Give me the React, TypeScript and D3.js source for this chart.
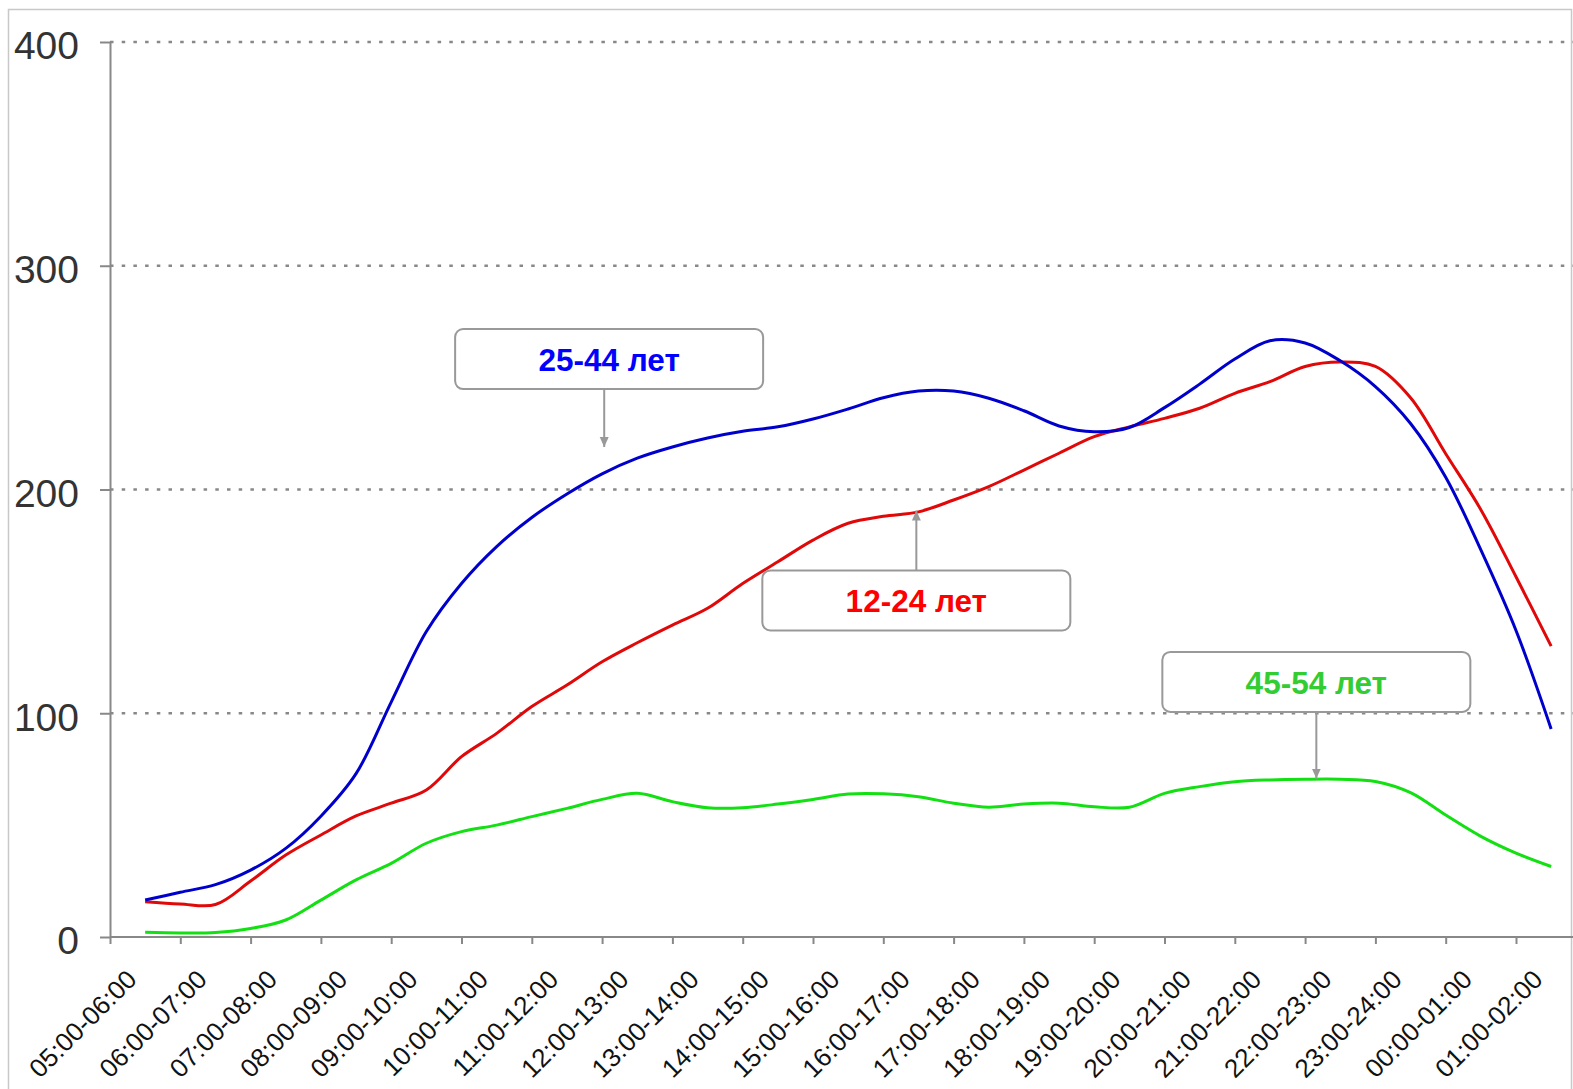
import React, { useEffect, useRef } from 'react';
import * as d3 from 'd3';

// hour bands on the x axis
const categories = [
    '05:00-06:00', '06:00-07:00', '07:00-08:00', '08:00-09:00', '09:00-10:00',
    '10:00-11:00', '11:00-12:00', '12:00-13:00', '13:00-14:00', '14:00-15:00',
    '15:00-16:00', '16:00-17:00', '17:00-18:00', '18:00-19:00', '19:00-20:00',
    '20:00-21:00', '21:00-22:00', '22:00-23:00', '23:00-24:00', '00:00-01:00',
    '01:00-02:00',
];

const yTicks = [0, 100, 200, 300, 400];

// audience per half-hour step, starting at the middle of the first band
const age12to24 = [
    15.8, 14.8, 14.5, 25, 36.6, 45.6, 54.1, 59.8, 65.7, 80.6,
    91, 103, 112.6, 123, 131.5, 139.4, 146.9, 158, 167.7, 177.4,
    184.9, 188, 190, 195.3, 201.3, 208.7, 216.2, 223.6, 228, 231.8,
    236.3, 243, 248.2, 255, 257, 255, 241, 216, 191, 161,
    130,
];

const age25to44 = [
    16.5, 20, 23.4, 29.9, 39.6, 54, 73, 105, 136.5, 158,
    174.5, 187.5, 198, 207, 214, 219, 223, 226, 228, 231.5,
    236, 241, 244, 244, 240.8, 235.2, 228.4, 225.8, 227.7, 236.6,
    247.1, 258.3, 266.5, 265.5, 257.5, 246, 229.5, 205.5, 173, 137,
    93,
];

const age45to54 = [
    2.1, 1.8, 2, 3.8, 7.6, 16.5, 25.5, 32.9, 41.9, 47.1,
    50, 53.8, 57.5, 61.5, 64.2, 60.5, 57.8, 57.8, 59.4, 61.5,
    63.9, 64, 62.7, 59.8, 58, 59.4, 59.8, 58.2, 58, 64.2,
    67.2, 69.4, 70.2, 70.5, 70.5, 69.5, 64.5, 54.5, 45, 37.5,
    31.5,
];

const series = [
    { name: '45-54 лет', values: age45to54, color: '#12e012' },
    { name: '12-24 лет', values: age12to24, color: '#e00808' },
    { name: '25-44 лет', values: age25to44, color: '#0000cc' },
];

// callout boxes, placed in chart units (hours from 05:00, audience)
const callouts = [
    { text: '25-44 лет', color: '#0000ff', boxHour: 7.1, boxValue: 258.3, tipHour: 7.03, tipValue: 219 },
    { text: '12-24 лет', color: '#ff0000', boxHour: 11.47, boxValue: 150.4, tipHour: 11.47, tipValue: 190.6 },
    { text: '45-54 лет', color: '#33cc33', boxHour: 17.16, boxValue: 114, tipHour: 17.16, tipValue: 70.8 },
];

const WIDTH = 1573;
const HEIGHT = 1089;
const FONT = '"Liberation Sans", Arial, sans-serif';

const App = () => {
    const svgRef = useRef<SVGSVGElement>(null);

    useEffect(() => {
        const svg = d3.select(svgRef.current);
        svg.selectAll('*').remove();

        const left = 110;
        const bandW = 70.3;
        const x = d3.scaleLinear().domain([0, categories.length]).range([left, left + bandW * categories.length]);
        const band = d3.scaleBand().domain(categories).range([left, left + bandW * categories.length]);
        const y = d3.scaleLinear().domain([0, 400]).range([937, 42]);

        // outer frame
        svg.append('rect')
            .attr('x', 8.5).attr('y', 9.5)
            .attr('width', WIDTH - 10).attr('height', HEIGHT + 20)
            .attr('fill', 'none').attr('stroke', '#c8c8c8').attr('stroke-width', 1.5);

        // dotted grid
        svg.append('g')
            .selectAll('line')
            .data(yTicks.filter(d => d > 0))
            .enter()
            .append('line')
            .attr('x1', left).attr('x2', WIDTH)
            .attr('y1', d => y(d)).attr('y2', d => y(d))
            .attr('stroke', '#888').attr('stroke-width', 2.5)
            .attr('stroke-dasharray', '3.5 8.2');

        // y axis
        const yAxis = svg.append('g')
            .attr('transform', `translate(${left},0)`)
            .call(d3.axisLeft(y).tickValues(yTicks).tickSize(10).tickSizeOuter(0).tickPadding(21));
        yAxis.select('.domain').attr('stroke', '#888').attr('stroke-width', 2);
        yAxis.selectAll('.tick line').attr('stroke', '#888').attr('stroke-width', 2);
        yAxis.selectAll('.tick text')
            .attr('font-family', FONT).attr('font-size', 39).attr('fill', '#333')
            .attr('dy', '0.43em');

        // x axis
        const xAxis = svg.append('g')
            .attr('transform', `translate(0,${y(0)})`)
            .call(d3.axisBottom(x).tickValues(d3.range(0, categories.length + 1)).tickSize(7).tickSizeOuter(0).tickFormat(() => ''));
        xAxis.select('.domain').remove();
        xAxis.selectAll('.tick line').attr('stroke', '#888').attr('stroke-width', 2);
        svg.append('line')
            .attr('x1', left).attr('x2', WIDTH)
            .attr('y1', y(0)).attr('y2', y(0))
            .attr('stroke', '#888').attr('stroke-width', 2);

        svg.append('g')
            .selectAll('text')
            .data(categories)
            .enter()
            .append('text')
            .attr('transform', d => `translate(${band(d)! + band.bandwidth() / 2 - 7},${y(0) + 44}) rotate(-45)`)
            .attr('text-anchor', 'end')
            .attr('font-family', FONT).attr('font-size', 26).attr('fill', '#111')
            .text(d => d);

        // lines
        const line = d3.line<number>()
            .x((_, i) => x(0.5 + i * 0.5))
            .y(d => y(d))
            .curve(d3.curveCatmullRom.alpha(0.5));

        svg.append('g')
            .selectAll('path')
            .data(series)
            .enter()
            .append('path')
            .attr('d', d => line(d.values))
            .attr('fill', 'none')
            .attr('stroke', d => d.color)
            .attr('stroke-width', 3)
            .attr('stroke-linejoin', 'round');

        // arrowhead
        svg.append('defs').append('marker')
            .attr('id', 'arrow')
            .attr('markerUnits', 'userSpaceOnUse')
            .attr('markerWidth', 10).attr('markerHeight', 10)
            .attr('refX', 10).attr('refY', 4.5)
            .attr('orient', 'auto')
            .append('path')
            .attr('d', 'M0,0 L10,4.5 L0,9 Z')
            .attr('fill', '#999');

        const boxW = 308;
        const boxH = 60;
        const notes = svg.append('g').selectAll('g').data(callouts).enter().append('g');

        notes.append('line')
            .attr('x1', d => x(d.tipHour))
            .attr('x2', d => x(d.tipHour))
            .attr('y1', d => (y(d.tipValue) > y(d.boxValue) ? y(d.boxValue) + boxH / 2 : y(d.boxValue) - boxH / 2))
            .attr('y2', d => y(d.tipValue))
            .attr('stroke', '#999').attr('stroke-width', 2)
            .attr('marker-end', 'url(#arrow)');

        notes.append('rect')
            .attr('x', d => x(d.boxHour) - boxW / 2)
            .attr('y', d => y(d.boxValue) - boxH / 2)
            .attr('width', boxW).attr('height', boxH)
            .attr('rx', 8)
            .attr('fill', '#fff')
            .attr('stroke', '#999').attr('stroke-width', 2);

        notes.append('text')
            .attr('x', d => x(d.boxHour))
            .attr('y', d => y(d.boxValue) + 12)
            .attr('text-anchor', 'middle')
            .attr('font-family', FONT).attr('font-weight', 'bold').attr('font-size', 31.5)
            .attr('fill', d => d.color)
            .text(d => d.text);
    }, []);

    return (
        <svg
            ref={svgRef}
            width={WIDTH}
            height={HEIGHT}
            style={{ position: 'absolute', left: 0, top: 0, background: '#fff' }}
        />
    );
};

export default App;
